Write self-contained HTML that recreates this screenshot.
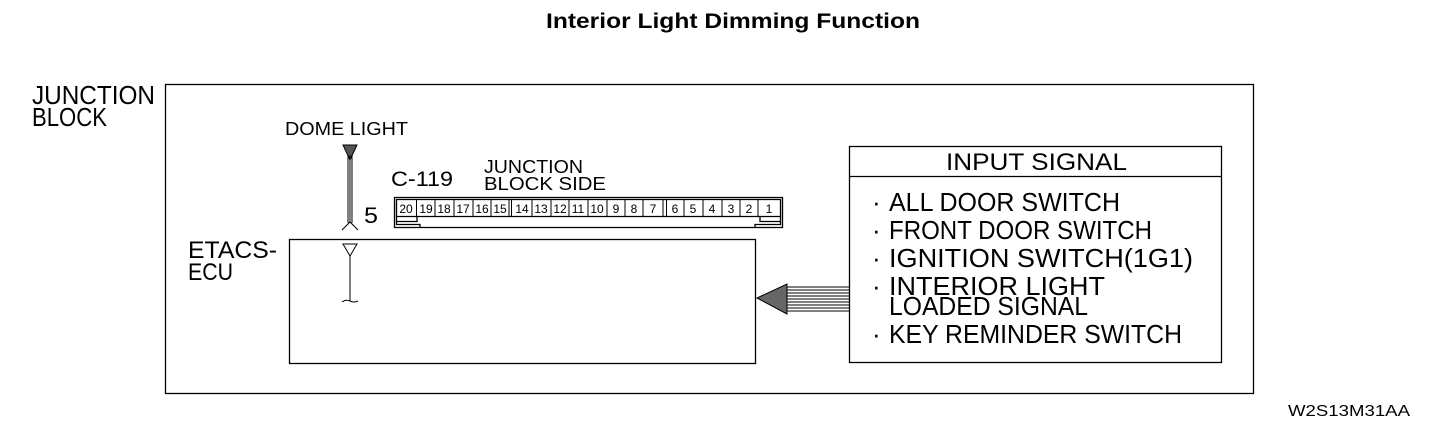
<!DOCTYPE html>
<html><head><meta charset="utf-8"><style>
html,body{margin:0;padding:0;background:#fff;}
svg{display:block;}
text{font-family:"Liberation Sans",sans-serif;fill:#000;}
.t{font-weight:normal;}
</style></head><body>
<svg width="1440" height="432" viewBox="0 0 1440 432" xmlns="http://www.w3.org/2000/svg">
<text x="546" y="28" font-size="21" font-weight="bold" textLength="374" lengthAdjust="spacingAndGlyphs">Interior Light Dimming Function</text>
<g fill="none" stroke="#000" stroke-width="1.3">
<rect x="165.5" y="84.5" width="1088" height="309"/>
<rect x="289.5" y="239.5" width="466" height="124"/>
<rect x="849.5" y="146.5" width="372" height="216"/>
<line x1="849" y1="176.5" x2="1222" y2="176.5"/>
<!-- connector -->
<path d="M394.5 197.5 H782.5 V227.5 H394.5 Z"/>
<path d="M396.5 199.5 H780.5 V216.5 H396.5 Z"/>
<path d="M396.5 216.5 V224.5 H420 V227.5 M780.5 216.5 V224.5 H755 V227.5"/>
<path d="M396.5 221.5 H417 V216.5 M780.5 221.5 H760 V216.5"/>
</g>
<g stroke="#000" stroke-width="1">
<line x1="416.5" y1="199" x2="416.5" y2="216"/><line x1="435" y1="199" x2="435" y2="216"/>
<line x1="454" y1="199" x2="454" y2="216"/><line x1="473" y1="199" x2="473" y2="216"/>
<line x1="491" y1="199" x2="491" y2="216"/><line x1="509" y1="199" x2="509" y2="216"/>
<line x1="511.5" y1="199" x2="511.5" y2="216"/><line x1="532" y1="199" x2="532" y2="216"/>
<line x1="551" y1="199" x2="551" y2="216"/><line x1="569" y1="199" x2="569" y2="216"/>
<line x1="588" y1="199" x2="588" y2="216"/><line x1="607" y1="199" x2="607" y2="216"/>
<line x1="625" y1="199" x2="625" y2="216"/><line x1="643" y1="199" x2="643" y2="216"/>
<line x1="663" y1="199" x2="663" y2="216"/><line x1="666.5" y1="199" x2="666.5" y2="216"/>
<line x1="684" y1="199" x2="684" y2="216"/><line x1="703" y1="199" x2="703" y2="216"/>
<line x1="722" y1="199" x2="722" y2="216"/><line x1="740" y1="199" x2="740" y2="216"/>
<line x1="758" y1="199" x2="758" y2="216"/>
</g>
<g font-size="12" text-anchor="middle">
<text x="406" y="213">20</text><text x="426" y="213">19</text><text x="444" y="213">18</text><text x="463" y="213">17</text><text x="482" y="213">16</text><text x="500" y="213">15</text>
<text x="522" y="213">14</text><text x="541" y="213">13</text><text x="560" y="213">12</text><text x="578" y="213">11</text><text x="597" y="213">10</text><text x="616" y="213">9</text><text x="634" y="213">8</text><text x="653" y="213">7</text>
<text x="675" y="213">6</text><text x="693" y="213">5</text><text x="712" y="213">4</text><text x="731" y="213">3</text><text x="749" y="213">2</text><text x="769" y="213">1</text>
</g>
<!-- dome light wire -->
<g stroke="#000" stroke-width="1" fill="none">
<path d="M343 145 L357 145 L350 160 Z" fill="#555"/>
<line x1="348" y1="155" x2="348" y2="223"/><line x1="350" y1="155" x2="350" y2="223"/><line x1="352" y1="155" x2="352" y2="223"/>
<path d="M342 230 L350 222 L358 230"/>
<path d="M343 244 H357 L350 256 Z"/>
<line x1="350" y1="256" x2="350" y2="301"/>
<path d="M342 302 Q346 299 350 301 Q354 303 358 301"/>
</g>
<!-- arrow -->
<g stroke="#000" stroke-width="1">
<line x1="787" y1="287" x2="849" y2="287"/><line x1="787" y1="290" x2="849" y2="290"/>
<line x1="787" y1="293" x2="849" y2="293"/><line x1="787" y1="296" x2="849" y2="296"/>
<line x1="787" y1="299" x2="849" y2="299"/><line x1="787" y1="302" x2="849" y2="302"/>
<line x1="787" y1="305" x2="849" y2="305"/><line x1="787" y1="308" x2="849" y2="308"/>
<line x1="787" y1="311" x2="849" y2="311"/>
</g>
<path d="M757 298 L787 284 L787 314 Z" fill="#666" stroke="#000" stroke-width="1"/>
<!-- labels -->
<g class="t">
<text x="32" y="104" font-size="26" textLength="123" lengthAdjust="spacingAndGlyphs">JUNCTION</text>
<text x="32" y="126" font-size="26" textLength="75" lengthAdjust="spacingAndGlyphs">BLOCK</text>
<text x="285" y="135" font-size="18" textLength="123" lengthAdjust="spacingAndGlyphs">DOME LIGHT</text>
<text x="391" y="186" font-size="21" textLength="62" lengthAdjust="spacingAndGlyphs">C-119</text>
<text x="484" y="173" font-size="18" textLength="99" lengthAdjust="spacingAndGlyphs">JUNCTION</text>
<text x="484" y="190" font-size="18" textLength="122" lengthAdjust="spacingAndGlyphs">BLOCK SIDE</text>
<text x="364" y="223" font-size="22" textLength="14" lengthAdjust="spacingAndGlyphs">5</text>
<text x="188" y="258" font-size="24" textLength="89" lengthAdjust="spacingAndGlyphs">ETACS-</text>
<text x="188" y="280" font-size="24" textLength="45" lengthAdjust="spacingAndGlyphs">ECU</text>
<text x="946" y="170" font-size="24" textLength="181" lengthAdjust="spacingAndGlyphs">INPUT SIGNAL</text>
<text x="872" y="211" font-size="26">·</text>
<text x="889" y="211" font-size="26" textLength="231" lengthAdjust="spacingAndGlyphs">ALL DOOR SWITCH</text>
<text x="872" y="239" font-size="26">·</text>
<text x="889" y="239" font-size="26" textLength="263" lengthAdjust="spacingAndGlyphs">FRONT DOOR SWITCH</text>
<text x="872" y="267" font-size="26">·</text>
<text x="889" y="267" font-size="26" textLength="304" lengthAdjust="spacingAndGlyphs">IGNITION SWITCH(1G1)</text>
<text x="872" y="295" font-size="26">·</text>
<text x="889" y="295" font-size="26" textLength="216" lengthAdjust="spacingAndGlyphs">INTERIOR LIGHT</text>
<text x="889" y="315" font-size="26" textLength="199" lengthAdjust="spacingAndGlyphs">LOADED SIGNAL</text>
<text x="872" y="343" font-size="26">·</text>
<text x="889" y="343" font-size="26" textLength="293" lengthAdjust="spacingAndGlyphs">KEY REMINDER SWITCH</text>
<text x="1288" y="416" font-size="16" textLength="122" lengthAdjust="spacingAndGlyphs">W2S13M31AA</text>
</g>
</svg>
</body></html>
